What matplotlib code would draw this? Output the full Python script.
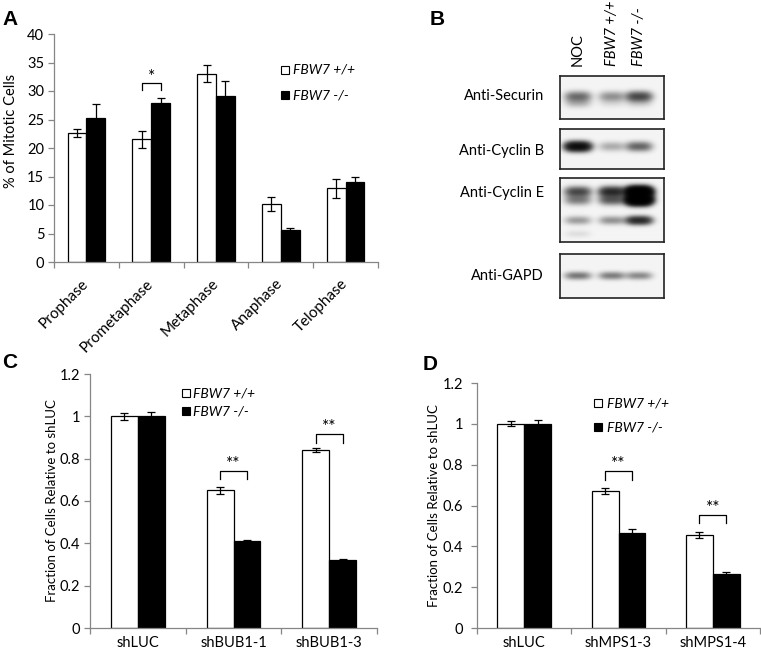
import numpy as np
import matplotlib
matplotlib.use('Agg')
import matplotlib.pyplot as plt
from matplotlib.lines import Line2D

plt.rcParams['font.family'] = ['Lato', 'DejaVu Sans']

# ---------------- data ----------------
series_labels = ['FBW7 +/+', 'FBW7 -/-']

phases = ['Prophase', 'Prometaphase', 'Metaphase', 'Anaphase', 'Telophase']
a_wt = [22.6, 21.5, 33.0, 10.2, 12.9]
a_wt_err = [0.65, 1.5, 1.5, 1.25, 1.65]
a_ko = [25.2, 27.95, 29.2, 5.6, 14.0]
a_ko_err = [2.5, 0.75, 2.5, 0.4, 0.9]
a_sig_idx = [1]
a_sig_text = ['*']

c_groups = ['shLUC', 'shBUB1-1', 'shBUB1-3']
c_wt = [1.0, 0.65, 0.84]
c_wt_err = [0.016, 0.015, 0.01]
c_ko = [1.0, 0.41, 0.32]
c_ko_err = [0.02, 0.006, 0.004]
c_sig_idx = [1, 2]
c_sig_text = ['**', '**']

d_groups = ['shLUC', 'shMPS1-3', 'shMPS1-4']
d_wt = [1.0, 0.67, 0.455]
d_wt_err = [0.013, 0.016, 0.016]
d_ko = [1.0, 0.465, 0.265]
d_ko_err = [0.02, 0.02, 0.007]
d_sig_idx = [1, 2]
d_sig_text = ['**', '**']

blot_lanes = ['NOC', 'FBW7 +/+', 'FBW7 -/-']
blot_names = ['Anti-Securin', 'Anti-Cyclin B', 'Anti-Cyclin E', 'Anti-GAPD']
# band intensities per lane (rows of bands within each blot)
securin_bands = [[0.5, 0.32, 0.75], [0.18, 0.06, 0.1]]
cyclinb_bands = [[1.8, 0.22, 0.55]]
cycline_bands = [[0.75, 1.1, 3.8], [0.42, 0.62, 3.8], [0.28, 0.32, 1.1], [0.06, 0.0, 0.0]]
gapd_bands = [[0.45, 0.42, 0.36]]

# ---------------- layout helpers ----------------
W, H = 761, 653
fig = plt.figure(figsize=(W / 100, H / 100), dpi=100)


def rect(x0, y0, x1, y1):
    return [x0 / W, 1 - y1 / H, (x1 - x0) / W, (y1 - y0) / H]


def fp(x, y):
    return (x / W, 1 - y / H)


GRAY = '#868686'


def bar_panel(r, cats, wt, wt_err, ko, ko_err, ymax, yticks, ytick_fmt, bw,
              sig_idx, sig_text, br_bot, br_top, star_y, tick_fs):
    ax = fig.add_axes(rect(*r))
    x = np.arange(len(cats))
    ax.bar(x - bw / 2, wt, bw, color='white', edgecolor='black', linewidth=0.9, zorder=2)
    ax.bar(x + bw / 2, ko, bw, color='black', edgecolor='black', linewidth=0.9, zorder=2)
    ek = dict(fmt='none', ecolor='black', elinewidth=0.9, capsize=2.8, capthick=0.9, zorder=3)
    ax.errorbar(x - bw / 2, wt, yerr=wt_err, **ek)
    ax.errorbar(x + bw / 2, ko, yerr=ko_err, **ek)
    for i, t, b0, b1, sy in zip(sig_idx, sig_text, br_bot, br_top, star_y):
        ax.plot([i - bw / 2, i - bw / 2, i + bw / 2, i + bw / 2], [b0, b1, b1, b0],
                color='black', lw=0.9, zorder=3)
        ax.text(i, sy, t, ha='center', va='center', fontsize=12.5)
    ax.set_xlim(-0.5, len(cats) - 0.5)
    ax.set_ylim(0, ymax)
    ax.set_yticks(yticks)
    ax.set_yticklabels([ytick_fmt(v) for v in yticks])
    ax.set_xticks(x)
    ax.set_xticks(np.arange(len(cats) + 1) - 0.5, minor=True)
    for s in ['top', 'right']:
        ax.spines[s].set_visible(False)
    for s in ['left', 'bottom']:
        ax.spines[s].set_color(GRAY)
        ax.spines[s].set_linewidth(0.9)
    ax.tick_params(axis='y', direction='out', length=4, width=0.9, color=GRAY,
                   labelsize=tick_fs, pad=3)
    ax.tick_params(axis='x', which='major', length=0, labelsize=tick_fs)
    ax.tick_params(axis='x', which='minor', direction='out', length=4, width=0.9, color=GRAY)
    return ax


def legend(xm, xt, ys, fs):
    for lab, fc, y in zip(series_labels, ['white', 'black'], ys):
        fig.add_artist(Line2D([fp(xm, y)[0]], [fp(xm, y)[1]], marker='s', markersize=5.8,
                              markerfacecolor=fc, markeredgecolor='black', markeredgewidth=0.8,
                              linestyle='none', transform=fig.transFigure))
        fig.text(*fp(xt, y), lab, ha='left', va='center', fontsize=fs, style='italic')


def fmt_int(v):
    return '%d' % v


def fmt_c(v):
    return '0' if v == 0 else ('1' if v == 1 else '%.1f' % v)


# ---------------- panel A ----------------
axA = bar_panel((54, 34, 378, 262), phases, a_wt, a_wt_err, a_ko, a_ko_err, 40,
                np.arange(0, 41, 5), fmt_int, 0.29, a_sig_idx, a_sig_text,
                [30.2], [31.4], [32.4], 10.5)
axA.set_xticklabels(phases, rotation=45, ha='right', va='center', rotation_mode='anchor')
axA.tick_params(axis='x', which='major', pad=14, labelsize=11)
fig.text(*fp(11, 131), '% of Mitotic Cells', rotation=90, ha='center', va='center', fontsize=10.5)
legend(285, 293, [70, 95], 10)

# ---------------- panel C ----------------
axC = bar_panel((90, 374, 377, 628), c_groups, c_wt, c_wt_err, c_ko, c_ko_err, 1.2,
                np.round(np.arange(0, 1.21, 0.2), 1), fmt_c, 0.28, c_sig_idx, c_sig_text,
                [0.704, 0.876], [0.743, 0.917], [0.775, 0.948], 10.5)
axC.set_xticklabels(c_groups)
axC.tick_params(axis='x', which='major', pad=6)
fig.text(*fp(52, 501), 'Fraction of Cells Relative to shLUC', rotation=90, ha='center',
         va='center', fontsize=9.5)
legend(186, 193, [393, 411], 10)

# ---------------- panel D ----------------
axD = bar_panel((477, 383, 760, 628), d_groups, d_wt, d_wt_err, d_ko, d_ko_err, 1.2,
                np.round(np.arange(0, 1.21, 0.2), 1), fmt_c, 0.286, d_sig_idx, d_sig_text,
                [0.727, 0.512], [0.769, 0.553], [0.805, 0.588], 10.5)
axD.set_xticklabels(d_groups)
axD.tick_params(axis='x', which='major', pad=6)
axD.tick_params(axis='y', pad=6)
fig.text(*fp(434, 506), 'Fraction of Cells Relative to shLUC', rotation=90, ha='center',
         va='center', fontsize=9.5)
legend(598, 607, [403, 427], 10)

# ---------------- panel B (western blots) ----------------
BX0, BX1 = 560, 664
lane_x = [18, 52, 79]          # lane centres from the left edge of the box (px)
boxes = [(76, 119), (129, 169), (178, 242), (254, 298)]
rows_y = [[(20.5, 3.4), (27, 3.2)], [(17.5, 3.2)],
          [(14.5, 3.3), (22.5, 3.3), (42.7, 2.8), (56, 2.5)], [(21.7, 2.6)]]
band_sets = [securin_bands, cyclinb_bands, cycline_bands, gapd_bands]
label_y = [96, 151, 193, 276]

for (y0, y1), rows, bands, name, ly in zip(boxes, rows_y, band_sets, blot_names, label_y):
    ax = fig.add_axes(rect(BX0, y0, BX1, y1))
    S = 4
    wpx, hpx = BX1 - BX0, y1 - y0
    xs = (np.arange(wpx * S) + 0.5) / S
    ys = (np.arange(hpx * S) + 0.5) / S
    XX, YY = np.meshgrid(xs, ys)
    img = np.full(XX.shape, 0.025)
    for (yc, sy), inten in zip(rows, bands):
        for lx, v in zip(lane_x, inten):
            img += v * np.exp(-np.abs((XX - lx) / 12.5) ** 3) * np.exp(-0.5 * ((YY - yc) / sy) ** 2)
    dark = 1 - np.exp(-1.6 * img)
    ax.imshow(dark, cmap='gray_r', vmin=0, vmax=1, extent=[0, wpx, hpx, 0],
              interpolation='bilinear', aspect='auto')
    ax.set_xticks([])
    ax.set_yticks([])
    for s in ax.spines.values():
        s.set_color('#222222')
        s.set_linewidth(1.2)
    fig.text(*fp(544, ly), name, ha='right', va='center', fontsize=10.5)

for lab, lx in zip(blot_lanes, lane_x):
    fig.text(*fp(BX0 + lx, 66), lab, rotation=90, ha='center', va='bottom', fontsize=10.5,
             style='normal' if lab == 'NOC' else 'italic')

# ---------------- panel letters ----------------
for letter, (x, y) in zip('ABCD', [(2, 25), (430, 25), (2, 368), (423, 370)]):
    fig.text(*fp(x, y), letter, ha='left', va='baseline', fontsize=15, fontweight='bold',
             family='Liberation Sans')

fig.savefig('out.png', dpi=100)
